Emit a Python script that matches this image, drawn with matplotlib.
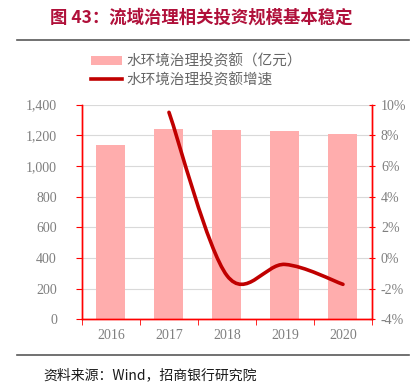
import matplotlib
matplotlib.use("Agg")
import matplotlib.pyplot as plt
from matplotlib.path import Path
from matplotlib.patches import PathPatch, Patch
from matplotlib.lines import Line2D
from matplotlib.ticker import FuncFormatter, MultipleLocator

plt.rcParams["font.family"] = ["Noto Sans CJK SC", "DejaVu Sans"]
plt.rcParams["axes.unicode_minus"] = False

years = ["2016", "2017", "2018", "2019", "2020"]
invest = [1137, 1241, 1233, 1226, 1207]
growth_years = ["2017", "2018", "2019", "2020"]
growth = [9.5, -1.15, -0.42, -1.72]

bar_color = "#FFADAD"
line_color = "#C00000"
axis_red = "#FF0000"
tick_gray = "#7F7F7F"

fig = plt.figure(figsize=(4.17, 3.92), dpi=100)
ax = fig.add_axes([0.1966, 0.1855, 0.6954, 0.5475])
ax2 = ax.twinx()

x = list(range(len(years)))
ax.bar(x, invest, width=0.5, color=bar_color, zorder=2)
ax.set_xlim(-0.5, len(years) - 0.5)
ax.set_ylim(0, 1400)
ax.yaxis.set_major_locator(MultipleLocator(200))
ax.yaxis.set_major_formatter(FuncFormatter(lambda v, p: f"{int(v):,}"))
ax.grid(axis="y", color="#D9D9D9", linewidth=0.8, zorder=0)
ax.set_axisbelow(True)
ax.set_xticks(x)
ax.set_xticklabels(years)
ax.set_xticks([i + 0.5 for i in range(-1, len(years))], minor=True)
ax.tick_params(axis="x", which="major", length=0, pad=7)
ax.tick_params(axis="x", which="minor", length=4, color=axis_red, direction="out")

# smoothed growth line (Catmull-Rom -> cubic Bezier)
gx = [years.index(y) for y in growth_years]
pts = list(zip(gx, growth))
verts = [pts[0]]
codes = [Path.MOVETO]
for i in range(len(pts) - 1):
    p0 = pts[i - 1] if i > 0 else pts[i]
    p1 = pts[i]
    p2 = pts[i + 1]
    p3 = pts[i + 2] if i + 2 < len(pts) else pts[i + 1]
    c1 = (p1[0] + (p2[0] - p0[0]) / 6, p1[1] + (p2[1] - p0[1]) / 6)
    c2 = (p2[0] - (p3[0] - p1[0]) / 6, p2[1] - (p3[1] - p1[1]) / 6)
    verts += [c1, c2, p2]
    codes += [Path.CURVE4] * 3
ax2.add_patch(PathPatch(Path(verts, codes), facecolor="none", edgecolor=line_color,
                        linewidth=2.6, capstyle="round", zorder=3))
ax2.set_ylim(-4, 10)
ax2.yaxis.set_major_locator(MultipleLocator(2))
ax2.yaxis.set_major_formatter(FuncFormatter(lambda v, p: f"{int(round(v))}%"))

for a in (ax, ax2):
    a.spines["top"].set_visible(False)
    for s in ("left", "right", "bottom"):
        a.spines[s].set_color(axis_red)
        a.spines[s].set_linewidth(1.0)
ax.tick_params(axis="y", length=4, color=axis_red, direction="out", labelcolor=tick_gray,
               labelsize=10, pad=14)
ax2.tick_params(axis="y", length=5, color=axis_red, direction="inout", labelcolor=tick_gray,
                labelsize=10, pad=4)
ax.tick_params(axis="x", labelcolor=tick_gray, labelsize=10)
for lab in ax.get_yticklabels() + ax.get_xticklabels() + ax2.get_yticklabels():
    lab.set_fontfamily(["Liberation Serif", "DejaVu Serif"])

handles = [Patch(facecolor=bar_color, edgecolor="none"),
           Line2D([0], [0], color=line_color, linewidth=2.6)]
labels = ["水环境治理投资额（亿元）", "水环境治理投资额增速"]
fig.legend(handles, labels, loc="upper left", bbox_to_anchor=(0.205, 0.877), frameon=False,
           fontsize=10.5, labelcolor="#666666", handlelength=2.1, handleheight=0.6,
           handletextpad=0.3, labelspacing=0.3, borderaxespad=0)

fig.text(0.12, 0.955, "图 43：流域治理相关投资规模基本稳定", fontsize=12.5, fontweight="bold",
         color="#B0103A", ha="left", va="center")
fig.add_artist(Line2D([0.04, 0.98], [0.897, 0.897], color="#595959", linewidth=1.2))
fig.add_artist(Line2D([0.04, 0.98], [0.094, 0.094], color="#595959", linewidth=1.2))
fig.text(0.105, 0.043, "资料来源：Wind，招商银行研究院", fontsize=10, color="#1A1A1A",
         ha="left", va="center")

fig.savefig("out.png", dpi=100)
